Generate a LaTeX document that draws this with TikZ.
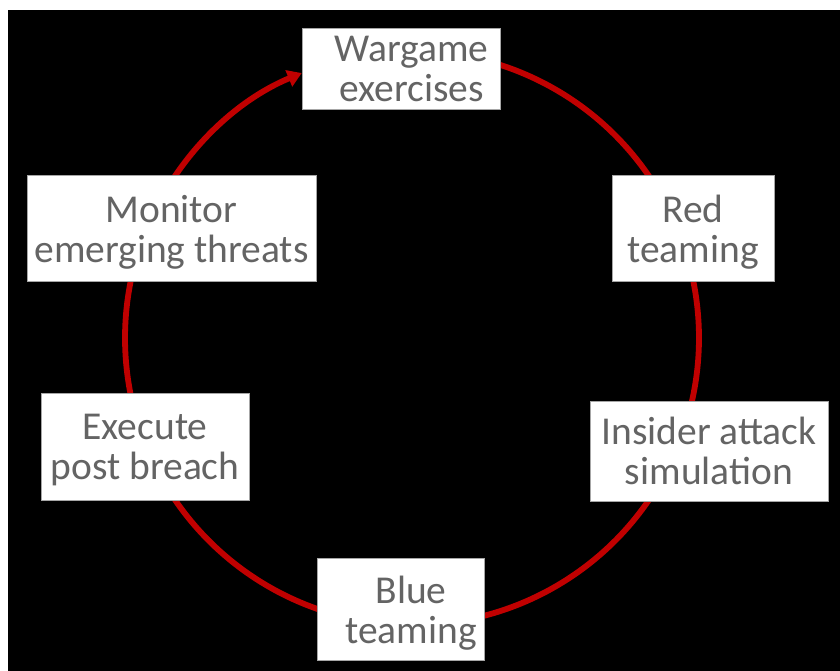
\documentclass[tikz,border=0pt]{standalone}
\usepackage{fontspec}
\setmainfont{Carlito}
\usetikzlibrary{arrows.meta,calc,backgrounds}
\definecolor{cycred}{RGB}{192,0,0}
\definecolor{txtgray}{RGB}{100,100,100}
\begin{document}
\begin{tikzpicture}[x=1pt,y=1pt,
  box/.style={draw=black!35,line width=0.8pt,fill=white,inner sep=0pt},
  lbl/.style={text=txtgray,font=\fontsize{39.5}{40}\selectfont,align=center,inner sep=0pt},
  cyc/.style={draw=cycred,line width=5.8pt},
  cyctip/.style={-{Triangle[length=14pt,width=17pt]}}]
\useasboundingbox (0,0) rectangle (840,671);
\begin{scope}[on background layer]
\fill[white] (0,0) rectangle (840,671);
\fill[black] (8,0) rectangle (840,661);
\end{scope}
\coordinate (O) at (412,333);
% boxes
\node[box,minimum width=198pt,minimum height=81pt]  (war) at (401,602.5) {};
\node[box,minimum width=162pt,minimum height=106pt] (red) at (693,443) {};
\node[box,minimum width=238pt,minimum height=100pt] (ins) at (709,220) {};
\node[box,minimum width=167pt,minimum height=102pt] (blu) at (400.5,62) {};
\node[box,minimum width=208pt,minimum height=107pt] (exe) at (145,224.5) {};
\node[box,minimum width=289pt,minimum height=106pt] (mon) at (171.5,443) {};
% labels
\node[lbl] (wart) at (411.5,602.5) {Wargame\\exercises};
\node[lbl] (redt) at ($(red)+(0,-4)$) {Red\\teaming};
\node[lbl] (inst) at ($(ins)+(0,0)$) {Insider attack\\simulation};
\node[lbl] (blut) at (411,58) {Blue\\teaming};
\node[lbl] (exet) at ($(exe)+(0,-4)$) {Execute\\post breach};
\node[lbl] (mont) at ($(mon)+(0,-4)$) {Monitor\\emerging threats};
% cycle connectors (behind the boxes)
\begin{scope}[on background layer]
\draw[cyc] ($(O)+(92.3:287pt)$) arc[start angle=92.3,end angle=21.4,radius=287pt];    % war -> red
\draw[cyc] ($(O)+(21.4:287pt)$) arc[start angle=21.4,end angle=-20.8,radius=287pt];   % red -> ins
\draw[cyc] ($(O)+(-20.8:287pt)$) arc[start angle=-20.8,end angle=-92.4,radius=287pt]; % ins -> blu
\draw[cyc] ($(O)+(-92.4:287pt)$) arc[start angle=-92.4,end angle=-157.9,radius=287pt];% blu -> exe
\draw[cyc] ($(O)+(-157.9:287pt)$) arc[start angle=-157.9,end angle=-204.6,radius=287pt];% exe -> mon
% mon -> war with arrow tip at the left edge of war
\draw[cyc,cyctip] ($(O)+(155.4:287pt)$) arc[start angle=155.4,end angle=112.6,radius=287pt];
\end{scope}
\end{tikzpicture}
\end{document}
